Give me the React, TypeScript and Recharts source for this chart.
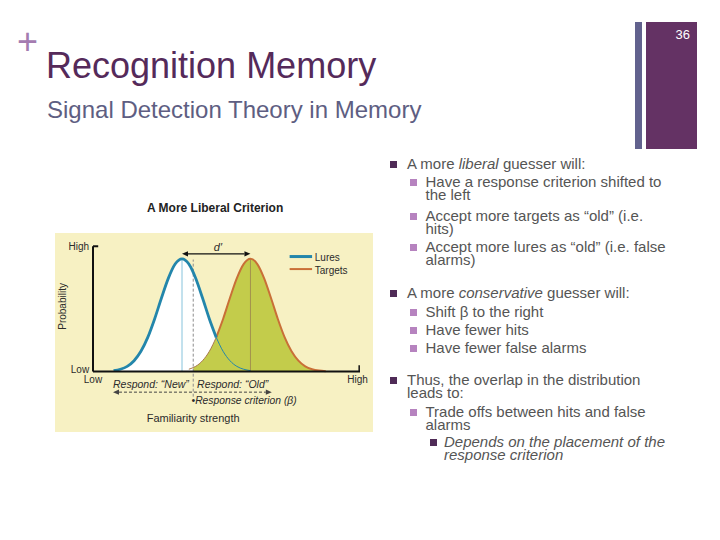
import React from "react";
import {
  Area,
  ComposedChart,
  Line,
  ReferenceDot,
  ReferenceLine,
  XAxis,
  YAxis,
} from "recharts";

// familiarity strength (x), probability for lures / targets
const familiarity = [
  0.75, 1, 1.25, 1.5, 1.75, 2, 2.25, 2.5, 2.75, 3, 3.25, 3.5, 3.66, 3.75, 4,
  4.25, 4.5, 4.75, 5, 5.25, 5.5, 5.75, 6, 6.25, 6.5, 6.75, 7, 7.25, 7.5, 7.75,
  8, 8.25, 8.5,
];
const lures = [
  0.008, 0.019, 0.042, 0.087, 0.162, 0.273, 0.42, 0.587, 0.744, 0.858, 0.9,
  0.858, 0.792, 0.744, 0.587, 0.42, 0.273, 0.162, 0.087, 0.042, 0.019, 0.008,
  null, null, null, null, null, null, null, null, null, null, null,
];
const targets = [
  null, null, null, null, null, null, null, null, null, null, null, 0.019,
  0.032, 0.042, 0.087, 0.162, 0.273, 0.42, 0.587, 0.744, 0.858, 0.9, 0.858,
  0.744, 0.587, 0.42, 0.273, 0.162, 0.087, 0.042, 0.019, 0.008, 0.003,
];
const luresMean = 3.25;
const targetsMean = 5.75;
const peak = 0.9;
const criterion = 3.66;
const crossing = 4.5;

const bullets = [
  { level: 1, base: 169, lines: [["A more ", ["liberal"], " guesser will:"]] },
  { level: 2, base: 187, lines: [["Have a response criterion shifted to"], ["the left"]] },
  { level: 2, base: 221, lines: [["Accept more targets as \u201cold\u201d (i.e."], ["hits)"]] },
  { level: 2, base: 252, lines: [["Accept more lures as \u201cold\u201d (i.e. false"], ["alarms)"]] },
  { level: 1, base: 298, lines: [["A more ", ["conservative"], " guesser will:"]] },
  { level: 2, base: 317, lines: [["Shift \u03b2 to the right"]] },
  { level: 2, base: 335, lines: [["Have fewer hits"]] },
  { level: 2, base: 353, lines: [["Have fewer false alarms"]] },
  { level: 1, base: 385, lines: [["Thus, the overlap in the distribution"], ["leads to:"]] },
  { level: 2, base: 417, lines: [["Trade offs between hits and false"], ["alarms"]] },
  { level: 3, base: 447, lines: [[["Depends on the placement of the"]], [["response criterion"]]] },
];

const FONT = "'Liberation Sans', Arial, Helvetica, sans-serif";
const BLUE = "#2386ab";
const ORANGE = "#c96f37";
const GREEN = "#c3cc4b";
const INK = "#2b2b2b";

const table = familiarity.map((x, i) => ({
  x,
  lures: lures[i],
  targets: targets[i],
  hits: x >= criterion ? targets[i] : null,
  luresLeft: x <= crossing ? lures[i] : null,
  luresRight: x >= crossing ? lures[i] : null,
  targetsLeft: x <= crossing ? targets[i] : null,
  targetsRight: x >= crossing ? targets[i] : null,
}));

const arrow = (color: string, width: number, dash?: string) => (p: any) => {
  const xa = Math.min(p.x1, p.x2);
  const xb = Math.max(p.x1, p.x2);
  const y = p.y1;
  const h = 6;
  return (
    <g>
      <line x1={xa + h} y1={y} x2={xb - h} y2={y} stroke={color} strokeWidth={width} strokeDasharray={dash} />
      <polygon points={`${xa},${y} ${xa + h},${y - 2.6} ${xa + h},${y + 2.6}`} fill={color} />
      <polygon points={`${xb},${y} ${xb - h},${y - 2.6} ${xb - h},${y + 2.6}`} fill={color} />
    </g>
  );
};

const txt = (
  value: string,
  position: "left" | "right" | "center",
  size = 10,
  italic = false,
  angle = 0,
) => ({
  value,
  position,
  offset: 0,
  fill: INK,
  fontSize: size,
  fontStyle: italic ? "italic" : "normal",
  fontFamily: FONT,
  angle,
});

function CriterionChart() {
  return (
    <ComposedChart
      width={318}
      height={199}
      data={table}
      margin={{ top: 7, right: 13, bottom: 4, left: 38 }}
    >
      <XAxis dataKey="x" type="number" domain={[0, 9.75]} allowDataOverflow hide />
      <YAxis type="number" domain={[-0.45, 1.05]} allowDataOverflow hide />

      <Area dataKey="lures" type="monotone" baseValue={0} fill="#ffffff" fillOpacity={1} stroke="none" isAnimationActive={false} />
      <Area dataKey="hits" type="monotone" baseValue={0} fill={GREEN} fillOpacity={1} stroke="none" isAnimationActive={false} />

      <ReferenceLine segment={[{ x: luresMean, y: 0 }, { x: luresMean, y: peak }]} stroke="#86c3dc" strokeWidth={1} />
      <ReferenceLine segment={[{ x: targetsMean, y: 0 }, { x: targetsMean, y: peak }]} stroke="#a3924e" strokeWidth={1} />
      <ReferenceLine segment={[{ x: criterion, y: -0.2 }, { x: criterion, y: 0.894 }]} stroke="#8c8c8c" strokeWidth={1} strokeDasharray="3 2" />

      <Line dataKey="targetsLeft" type="monotone" stroke="#a8774a" strokeWidth={1} dot={false} isAnimationActive={false} />
      <Line dataKey="targetsRight" type="monotone" stroke={ORANGE} strokeWidth={2} dot={false} isAnimationActive={false} />
      <Line dataKey="luresRight" type="monotone" stroke={BLUE} strokeWidth={1} dot={false} isAnimationActive={false} />
      <Line dataKey="luresLeft" type="monotone" stroke={BLUE} strokeWidth={2.8} dot={false} isAnimationActive={false} />

      {/* axes */}
      <ReferenceLine segment={[{ x: 0, y: 0 }, { x: 0, y: 1 }]} stroke="#111" strokeWidth={2} />
      <ReferenceLine segment={[{ x: 0, y: 1 }, { x: 0.19, y: 1 }]} stroke="#111" strokeWidth={2} />
      <ReferenceLine segment={[{ x: 0, y: 0 }, { x: 9.75, y: 0 }]} stroke="#111" strokeWidth={2} />
      <ReferenceLine segment={[{ x: 9.72, y: 0 }, { x: 9.72, y: 0.05 }]} stroke="#111" strokeWidth={1.5} />

      {/* d' */}
      <ReferenceLine segment={[{ x: luresMean, y: 0.94 }, { x: targetsMean, y: 0.94 }]} shape={arrow("#111", 1.2)} />
      <ReferenceDot x={4.56} y={0.99} r={0} fill="none" stroke="none" ifOverflow="visible" label={txt("d\u2032", "center", 11, true)} />

      {/* legend */}
      <ReferenceLine segment={[{ x: 7.18, y: 0.918 }, { x: 8.0, y: 0.918 }]} stroke={BLUE} strokeWidth={3} />
      <ReferenceLine segment={[{ x: 7.18, y: 0.818 }, { x: 8.0, y: 0.818 }]} stroke={ORANGE} strokeWidth={2} />
      <ReferenceDot x={8.1} y={0.912} r={0} fill="none" stroke="none" ifOverflow="visible" label={txt("Lures", "right")} />
      <ReferenceDot x={8.1} y={0.808} r={0} fill="none" stroke="none" ifOverflow="visible" label={txt("Targets", "right")} />

      {/* axis labels */}
      <ReferenceDot x={-0.14} y={1} r={0} fill="none" stroke="none" ifOverflow="visible" label={txt("High", "left")} />
      <ReferenceDot x={-0.14} y={0.016} r={0} fill="none" stroke="none" ifOverflow="visible" label={txt("Low", "left")} />
      <ReferenceDot x={-1.13} y={0.52} r={0} fill="none" stroke="none" ifOverflow="visible" label={txt("Probability", "center", 10, false, -90)} />
      <ReferenceDot x={0} y={-0.064} r={0} fill="none" stroke="none" ifOverflow="visible" label={txt("Low", "center")} />
      <ReferenceDot x={9.66} y={-0.064} r={0} fill="none" stroke="none" ifOverflow="visible" label={txt("High", "center")} />

      {/* response regions */}
      <ReferenceDot x={3.5} y={-0.098} r={0} fill="none" stroke="none" ifOverflow="visible" label={txt("Respond: \u201cNew\u201d", "left", 10.5, true)} />
      <ReferenceDot x={3.8} y={-0.098} r={0} fill="none" stroke="none" ifOverflow="visible" label={txt("Respond: \u201cOld\u201d", "right", 10.5, true)} />
      <ReferenceLine segment={[{ x: 0.73, y: -0.164 }, { x: 6.53, y: -0.164 }]} shape={arrow("#444", 1, "3 2")} />
      <ReferenceDot x={3.6} y={-0.229} r={0} fill="none" stroke="none" ifOverflow="visible" label={txt("\u2022Response criterion (\u03b2)", "right", 10.3, true)} />
      <ReferenceDot x={1.96} y={-0.37} r={0} fill="none" stroke="none" ifOverflow="visible" label={txt("Familiarity strength", "right", 11)} />
    </ComposedChart>
  );
}

function Bullet({ item }: { item: (typeof bullets)[number] }) {
  const textX = item.level === 1 ? 407 : item.level === 2 ? 425.5 : 444;
  const boxX = item.level === 1 ? 390 : item.level === 2 ? 410 : 430;
  const boxColor = item.level === 2 ? "#b683bf" : "#4f2b57";
  return (
    <>
      <div
        style={{
          position: "absolute",
          left: boxX,
          top: item.base - 8,
          width: 7,
          height: 7,
          background: boxColor,
        }}
      />
      <div
        style={{
          position: "absolute",
          left: textX,
          top: item.base - 11.7,
          fontSize: 15,
          lineHeight: "13px",
          color: "#555555",
          whiteSpace: "nowrap",
          fontStyle: item.level === 3 ? "italic" : "normal",
        }}
      >
        {item.lines.map((line, i) => (
          <div key={i}>
            {line.map((part, j) =>
              Array.isArray(part) ? (
                <i key={j}>{part[0]}</i>
              ) : (
                <span key={j}>{part}</span>
              ),
            )}
          </div>
        ))}
      </div>
    </>
  );
}

export default function App() {
  return (
    <div
      style={{
        position: "absolute",
        left: 0,
        top: 0,
        width: 720,
        height: 540,
        background: "#ffffff",
        overflow: "hidden",
        fontFamily: FONT,
      }}
    >
      <div style={{ position: "absolute", left: 635, top: 22, width: 7, height: 127, background: "#62628e" }} />
      <div style={{ position: "absolute", left: 646, top: 22, width: 51, height: 127, background: "#643264" }} />
      <div style={{ position: "absolute", left: 650, top: 28, width: 40, textAlign: "right", fontSize: 13, lineHeight: "13px", color: "#ffffff" }}>
        36
      </div>

      <div style={{ position: "absolute", left: 17, top: 24, fontSize: 36, lineHeight: "36px", color: "#a47bb0" }}>+</div>
      <div style={{ position: "absolute", left: 46, top: 48, fontSize: 36, lineHeight: "36px", color: "#552a5a", whiteSpace: "nowrap" }}>
        Recognition Memory
      </div>
      <div style={{ position: "absolute", left: 47, top: 98, fontSize: 24, lineHeight: "24px", color: "#5e5e82", whiteSpace: "nowrap" }}>
        Signal Detection Theory in Memory
      </div>

      <div style={{ position: "absolute", left: 147, top: 202, fontSize: 12, lineHeight: "12px", fontWeight: "bold", color: "#222", whiteSpace: "nowrap" }}>
        A More Liberal Criterion
      </div>
      <div style={{ position: "absolute", left: 55, top: 233, width: 318, height: 199, background: "#f7f1c3" }}>
        <CriterionChart />
      </div>

      {bullets.map((b, i) => (
        <Bullet key={i} item={b} />
      ))}
    </div>
  );
}
